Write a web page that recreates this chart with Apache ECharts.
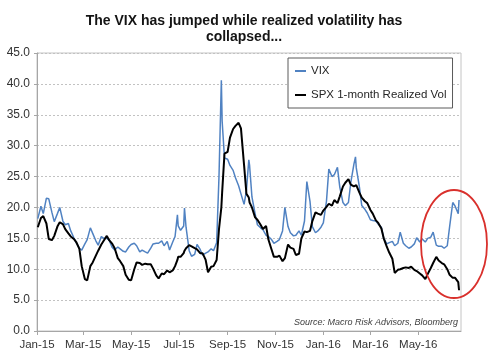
<!DOCTYPE html>
<html><head><meta charset="utf-8">
<script src="https://cdn.jsdelivr.net/npm/echarts@6/dist/echarts.min.js"></script>
<style>html,body{margin:0;padding:0;background:#fff}#c{width:488px;height:359px}</style>
</head><body><div id="c"></div>
<script>
// ---- data ----
const dates = [
'2015-01-02','2015-01-06','2015-01-09','2015-01-13','2015-01-16','2015-01-20','2015-01-23','2015-01-27','2015-01-30','2015-02-03',
'2015-02-06','2015-02-10','2015-02-13','2015-02-17','2015-02-20','2015-02-24','2015-02-27','2015-03-03','2015-03-06','2015-03-10',
'2015-03-13','2015-03-17','2015-03-20','2015-03-24','2015-03-27','2015-03-31','2015-04-03','2015-04-07','2015-04-10','2015-04-14',
'2015-04-17','2015-04-21','2015-04-24','2015-04-28','2015-05-01','2015-05-05','2015-05-08','2015-05-12','2015-05-15','2015-05-19',
'2015-05-22','2015-05-26','2015-05-29','2015-06-02','2015-06-05','2015-06-09','2015-06-12','2015-06-16','2015-06-19','2015-06-23',
'2015-06-26','2015-06-29','2015-06-30','2015-07-03','2015-07-07','2015-07-08','2015-07-10','2015-07-14','2015-07-17','2015-07-21',
'2015-07-24','2015-07-28','2015-07-31','2015-08-04','2015-08-07','2015-08-11','2015-08-14','2015-08-18','2015-08-21','2015-08-24',
'2015-08-25','2015-08-28','2015-09-01','2015-09-04','2015-09-08','2015-09-11','2015-09-15','2015-09-18','2015-09-22','2015-09-25',
'2015-09-28','2015-09-29','2015-10-02','2015-10-06','2015-10-09','2015-10-13','2015-10-16','2015-10-20','2015-10-23','2015-10-27',
'2015-10-30','2015-11-03','2015-11-06','2015-11-10','2015-11-13','2015-11-17','2015-11-20','2015-11-24','2015-11-27','2015-12-01',
'2015-12-04','2015-12-08','2015-12-11','2015-12-15','2015-12-18','2015-12-22','2015-12-25','2015-12-29','2016-01-01','2016-01-05',
'2016-01-08','2016-01-12','2016-01-15','2016-01-19','2016-01-22','2016-01-26','2016-01-29','2016-02-02','2016-02-05','2016-02-09',
'2016-02-11','2016-02-12','2016-02-16','2016-02-19','2016-02-23','2016-02-26','2016-03-01','2016-03-04','2016-03-08','2016-03-11',
'2016-03-15','2016-03-18','2016-03-22','2016-03-25','2016-03-29','2016-04-01','2016-04-05','2016-04-08','2016-04-12','2016-04-15',
'2016-04-19','2016-04-22','2016-04-26','2016-04-29','2016-05-03','2016-05-06','2016-05-10','2016-05-13','2016-05-17','2016-05-20',
'2016-05-24','2016-05-27','2016-05-31','2016-06-03','2016-06-07','2016-06-10','2016-06-14','2016-06-17','2016-06-21','2016-06-22'
];
const vix = [
18.2,20.2,19.0,21.5,21.4,19.2,17.7,19.0,20.0,17.8,
17.2,17.4,16.2,15.1,14.3,13.4,13.1,14.1,14.8,16.7,
15.8,14.6,13.9,15.3,15.0,15.0,14.7,13.5,13.1,13.6,
13.3,12.9,12.8,13.6,14.0,14.2,13.8,12.8,13.1,12.8,
12.6,13.4,14.1,14.2,14.2,14.6,13.8,14.5,13.1,14.4,
15.3,18.8,17.0,16.3,17.0,19.9,16.8,13.0,12.1,12.4,
14.0,13.2,12.3,12.6,12.8,13.3,13.0,14.3,25.0,40.6,
34.0,28.0,27.8,26.8,26.0,24.8,23.5,22.2,20.5,22.8,
27.7,26.8,21.7,19.0,17.2,16.7,16.4,15.5,15.3,14.8,
14.2,14.5,14.8,16.2,20.0,16.9,15.9,15.4,15.5,16.2,
15.5,17.8,24.2,21.0,16.9,15.9,16.2,16.8,17.5,21.0,
26.2,25.0,25.3,26.5,23.3,20.8,20.3,20.8,24.0,27.0,
28.2,26.4,23.3,20.3,19.7,19.1,18.0,17.9,17.8,17.3,
16.8,15.0,14.1,14.3,14.5,13.8,14.2,16.0,14.2,13.8,
13.4,13.6,14.1,15.1,14.4,14.9,14.4,15.0,15.2,16.0,
13.9,13.7,13.7,13.4,13.8,16.9,20.8,20.2,19.0,21.2
];
const spxRealizedVol = [
16.8,18.3,18.6,17.4,14.9,14.7,15.4,16.9,17.6,17.3,
16.5,15.8,15.3,14.9,14.4,13.3,10.5,8.4,8.2,10.5,
11.1,12.2,13.0,14.0,14.6,15.4,14.7,14.1,13.4,11.8,
11.3,10.5,9.1,8.3,8.2,10.0,11.1,11.0,10.7,10.9,
10.8,10.8,10.1,9.0,8.5,9.3,9.2,9.8,9.5,9.8,
10.5,11.5,12.0,12.0,12.6,13.0,13.4,13.9,13.7,13.4,
13.2,12.6,12.6,11.5,9.5,10.4,10.5,11.5,16.5,20.0,
22.4,28.7,29.0,31.3,32.7,33.2,33.7,32.8,26.8,22.2,
21.6,20.8,20.0,18.4,18.0,17.2,16.5,17.0,14.8,13.2,
12.0,12.0,12.2,11.3,11.8,14.0,13.5,13.3,12.3,12.5,
15.0,16.1,16.0,16.2,17.8,19.2,19.0,18.8,19.5,20.1,
20.6,20.3,21.2,20.7,21.8,23.4,24.0,24.6,23.7,23.4,
23.4,23.6,22.4,21.6,21.0,20.7,19.6,19.0,17.9,17.5,
16.6,15.0,13.6,12.7,11.7,9.4,9.9,10.0,10.2,10.3,
10.2,10.4,9.9,9.7,9.3,9.0,8.4,9.2,10.2,11.0,
12.0,11.4,11.0,10.8,10.0,9.1,8.6,8.6,7.9,6.6
];
const seriesNames = ['VIX', 'SPX 1-month Realized Vol'];
const xTickMonths = ['2015-01-01','2015-03-01','2015-05-01','2015-07-01','2015-09-01','2015-11-01',
                     '2016-01-01','2016-03-01','2016-05-01'];
const monthNames = ['Jan','Feb','Mar','Apr','May','Jun','Jul','Aug','Sep','Oct','Nov','Dec'];
const yMin = 0, yMax = 45, yStep = 5;
const titleText = 'The VIX has jumped while realized volatility has\ncollapsed...';
const sourceText = 'Source: Macro Risk Advisors, Bloomberg';

// ---- chart ----
function toTs(s){ const p = s.split('-').map(Number); return new Date(p[0], p[1]-1, p[2]).getTime(); }
const tickVals = xTickMonths.map(toTs);
const FONT = '"Liberation Sans", Arial, sans-serif';
const chart = echarts.init(document.getElementById('c'), null, {renderer:'canvas'});
chart.setOption({
  animation:false,
  textStyle:{fontFamily:FONT},
  title:{text:titleText, left:'center', top:8,
    textStyle:{fontSize:14, fontWeight:'bold', color:'#141414', lineHeight:16, fontFamily:FONT}},
  grid:{left:37, right:27, top:53, bottom:28, show:true, borderColor:'#c4c4c4', borderWidth:1},
  legend:{
    data:seriesNames, left:288, top:58, orient:'vertical', padding:[6,6,6,7], itemGap:10,
    itemWidth:11, itemHeight:2, icon:'rect', borderColor:'#5a5a5a', borderWidth:1, backgroundColor:'#fff',
    textStyle:{fontSize:11.5, color:'#262626', lineHeight:14, fontFamily:FONT}
  },
  xAxis:{type:'value', min:toTs('2015-01-01'), max:new Date(2016,5,24,12).getTime(),
    axisLine:{lineStyle:{color:'#a6a6a6'}},
    axisTick:{show:true, length:4, customValues:tickVals, lineStyle:{color:'#a6a6a6'}},
    axisLabel:{customValues:tickVals, color:'#333', fontSize:11.5, margin:8, fontFamily:FONT,
      formatter:function(v){ const d = new Date(v); return monthNames[d.getMonth()] + '-' + String(d.getFullYear()).slice(2); }},
    splitLine:{show:false}},
  yAxis:{type:'value', min:yMin, max:yMax, interval:yStep,
    axisLine:{show:true, lineStyle:{color:'#a6a6a6'}},
    axisTick:{show:true, length:3, lineStyle:{color:'#a6a6a6'}},
    axisLabel:{formatter:function(v){return v.toFixed(1);}, color:'#333', fontSize:12, margin:7, fontFamily:FONT},
    splitLine:{lineStyle:{color:'#c2c2c2', type:[2,2]}}},
  series:[
    {name:seriesNames[0], type:'line', symbol:'none', data:dates.map((d,i)=>[toTs(d), vix[i]]),
     lineStyle:{color:'#5082c2', width:1.5}, itemStyle:{color:'#5082c2'}, z:2},
    {name:seriesNames[1], type:'line', symbol:'none', data:dates.map((d,i)=>[toTs(d), spxRealizedVol[i]]),
     lineStyle:{color:'#000', width:2}, itemStyle:{color:'#000'}, z:3}
  ],
  graphic:[
    {type:'text', right:30, top:318, z:10,
     style:{text:sourceText, font:'italic 9px "Liberation Sans", Arial, sans-serif', fill:'#404040'}},
    {type:'ellipse', z:10, shape:{cx:454, cy:244, rx:33, ry:54},
     style:{fill:'none', stroke:'#d9302c', lineWidth:1.8}}
  ]
});
</script></body></html>
